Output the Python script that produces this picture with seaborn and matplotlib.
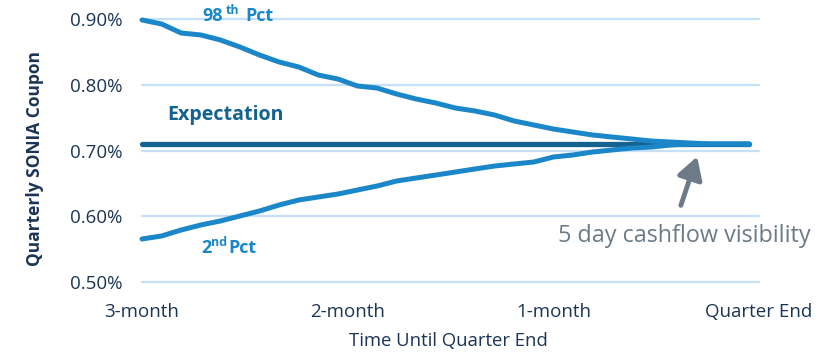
import matplotlib
matplotlib.use("Agg")
import matplotlib.pyplot as plt
import seaborn as sns
import pandas as pd
import numpy as np
from matplotlib.ticker import FuncFormatter

# ---- data ----
days = list(range(0, 63, 2))  # trading days from 3-month point
pct98 = [0.8985, 0.8924, 0.8787, 0.8757, 0.8681, 0.8574, 0.8452, 0.8346, 0.8270, 0.8148,
         0.8087, 0.7981, 0.7950, 0.7859, 0.7783, 0.7722, 0.7646, 0.7601, 0.7540, 0.7449,
         0.7388, 0.7327, 0.7281, 0.7236, 0.7205, 0.7175, 0.7144, 0.7129, 0.7114, 0.7099,
         0.7099, 0.7099]
pct2 = [0.5654, 0.5700, 0.5791, 0.5867, 0.5928, 0.6004, 0.6080, 0.6171, 0.6247, 0.6293,
        0.6338, 0.6399, 0.6460, 0.6536, 0.6582, 0.6627, 0.6673, 0.6719, 0.6764, 0.6795,
        0.6825, 0.6901, 0.6932, 0.6977, 0.7008, 0.7038, 0.7053, 0.7084, 0.7099, 0.7099,
        0.7099, 0.7099]
expectation = [0.710] * len(days)
tick_pos = [0, 21, 42, 63]
tick_labels = ["3-month", "2-month", "1-month", "Quarter End"]
y_ticks = [0.50, 0.60, 0.70, 0.80, 0.90]

sns.set_theme(style="white")
plt.rcParams['font.family'] = ['Open Sans', 'DejaVu Sans']

W, H = 818, 356
fig = plt.figure(figsize=(W / 100, H / 100), dpi=100)
ax = fig.add_axes([142 / W, 1 - 282 / H, (759 - 142) / W, (282 - 19) / H])

light = "#1b87c9"
dark = "#14628f"
navy = "#1c3555"
grid = "#c6e1f7"
gray = "#6c7b87"

for yv in y_ticks:
    ax.axhline(yv, color=grid, lw=1.6, zorder=0)

df = pd.DataFrame({"day": days, "p98": pct98, "p2": pct2, "exp": expectation})
sns.lineplot(data=df, x="day", y="exp", ax=ax, color=dark, lw=3.8, zorder=2,
             solid_capstyle="round")
sns.lineplot(data=df, x="day", y="p98", ax=ax, color=light, lw=3.6, zorder=3,
             solid_capstyle="round")
sns.lineplot(data=df, x="day", y="p2", ax=ax, color=light, lw=3.6, zorder=3,
             solid_capstyle="round")
for l in ax.lines:
    l.set_clip_on(False)

ax.set_xlim(0, 63)
ax.set_ylim(0.5, 0.9)
ax.set_xticks(tick_pos)
ax.set_xticklabels(tick_labels)
ax.set_yticks(y_ticks)
ax.yaxis.set_major_formatter(FuncFormatter(lambda v, p: f"{v:.2f}%"))
ax.tick_params(axis="both", length=0, labelsize=13.5, colors=navy)
ax.tick_params(axis="x", pad=15)
ax.tick_params(axis="y", pad=14)
for s in ax.spines.values():
    s.set_visible(False)
ax.set_xlabel("")
ax.set_ylabel("")

fig.text(448 / W, 1 - 341 / H, "Time Until Quarter End", ha="center", va="center",
         fontsize=13.3, color=navy)
fig.text(35 / W, 1 - 158 / H, "Quarterly SONIA Coupon", ha="center", va="center",
         rotation=90, fontsize=12.5, fontweight="bold", color=navy)

# annotations
def ftxt(x, y, s, **kw):
    fig.text(x / W, 1 - y / H, s, **kw)

ftxt(202, 21, "98", ha="left", va="baseline", fontsize=13, fontweight="bold", color=light)
ftxt(226, 14, "th", ha="left", va="baseline", fontsize=9, fontweight="bold", color=light)
ftxt(245, 21, "Pct", ha="left", va="baseline", fontsize=13, fontweight="bold", color=light)

ftxt(201, 253, "2", ha="left", va="baseline", fontsize=13, fontweight="bold", color=light)
ftxt(211, 246, "nd", ha="left", va="baseline", fontsize=9, fontweight="bold", color=light)
ftxt(228, 253, "Pct", ha="left", va="baseline", fontsize=13, fontweight="bold", color=light)

ftxt(167, 120, "Expectation", ha="left", va="baseline", fontsize=14.1, fontweight="bold", color=dark)

ftxt(558, 242, "5 day cashflow visibility", ha="left", va="baseline", fontsize=16.8, color=gray)

fig.add_artist(matplotlib.patches.FancyArrowPatch(
    (680 / W, 1 - 208 / H), (698 / W, 1 - 154 / H), transform=fig.transFigure,
    arrowstyle="-|>,head_length=6,head_width=3.5", mutation_scale=2.2,
    color=gray, lw=3.5, capstyle="round"))

fig.savefig("out.png", dpi=100)
